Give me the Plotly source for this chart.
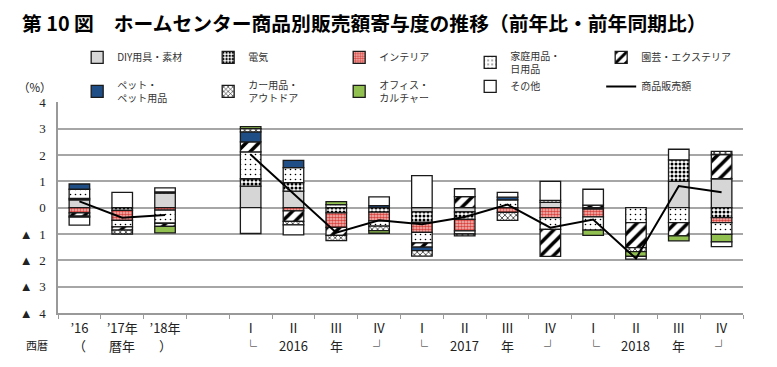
import plotly.graph_objects as go

# ---- data ----
x_labels_top = ["’16", "’17年", "’18年", "", "Ⅰ", "Ⅱ", "Ⅲ", "Ⅳ", "Ⅰ", "Ⅱ", "Ⅲ", "Ⅳ", "Ⅰ", "Ⅱ", "Ⅲ", "Ⅳ"]
x_labels_bot = ["（", "暦年", "）", "", "└", "2016", "年", "┘", "└", "2017", "年", "┘", "└", "2018", "年", "┘"]

diy      = [0.30, 0.00, 0.55, None, 0.82, 0.63, 0.00, 0.00, -0.16, -0.16, 0.00, 0.20, -0.05, 0.00, 1.00, 1.10]
denki    = [0.05, -0.10, 0.05, None, 0.28, 0.32, -0.20, -0.17, -0.40, -0.28, 0.00, 0.08, 0.00, 0.00, 0.82, -0.38]
interior = [-0.20, -0.38, -0.09, None, 0.00, -0.12, -0.55, -0.33, -0.38, -0.44, -0.18, -0.38, -0.30, 0.00, 0.00, -0.19]
katei    = [0.35, -0.25, -0.50, None, 1.02, 0.57, 0.12, -0.20, -0.40, -0.12, 0.30, -0.44, -0.50, -0.57, -0.57, -0.44]
engei    = [-0.12, -0.12, -0.12, None, 0.38, -0.40, -0.30, 0.00, -0.16, 0.42, 0.00, -1.03, 0.10, -0.95, -0.50, 0.92]
pet      = [0.20, 0.00, 0.00, None, 0.38, 0.28, 0.00, 0.08, -0.13, 0.00, 0.10, 0.00, 0.00, 0.00, 0.00, 0.00]
car      = [-0.04, -0.15, 0.00, None, 0.12, -0.13, -0.20, -0.17, -0.21, -0.07, -0.30, 0.00, 0.00, -0.15, 0.00, 0.12]
office   = [0.00, 0.00, -0.25, None, 0.08, 0.00, 0.11, -0.10, 0.00, 0.00, 0.00, 0.00, -0.20, -0.18, -0.19, -0.29]
other    = [-0.30, 0.58, 0.15, None, -0.98, -0.38, 0.00, 0.33, 1.22, 0.30, 0.18, 0.72, 0.60, -0.10, 0.40, -0.18]
sales    = [0.24, -0.38, -0.28, None, 2.02, 0.55, -0.95, -0.48, -0.63, -0.35, 0.12, -0.76, -0.45, -1.93, 0.82, 0.59]

y_tickvals = [4, 3, 2, 1, 0, -1, -2, -3, -4]
y_ticktext = ["4", "3", "2", "1", "0", "▲  1", "▲  2", "▲  3", "▲  4"]

xs = list(range(len(x_labels_top)))

series = [
    ("DIY用具・素材", diy, dict(color="#D6D6D6")),
    ("電気", denki, dict(color="white", pattern=dict(shape=".", fgcolor="black", bgcolor="white", size=4, solidity=0.45, fillmode="replace"))),
    ("インテリア", interior, dict(color="white", pattern=dict(shape=".", fgcolor="#D9433E", bgcolor="#F4C6C4", size=3, solidity=0.6, fillmode="replace"))),
    ("家庭用品・<br>日用品", katei, dict(color="white", pattern=dict(shape=".", fgcolor="black", bgcolor="white", size=5, solidity=0.08, fillmode="replace"))),
    ("園芸・エクステリア", engei, dict(color="white", pattern=dict(shape="/", fgcolor="black", bgcolor="white", size=9, solidity=0.4, fillmode="replace"))),
    ("ペット・<br>ペット用品", pet, dict(color="#1F4E86")),
    ("カー用品・<br>アウトドア", car, dict(color="white", pattern=dict(shape="x", fgcolor="black", bgcolor="white", size=4, solidity=0.3, fillmode="replace"))),
    ("オフィス・<br>カルチャー", office, dict(color="#92C050")),
    ("その他", other, dict(color="white")),
]

fig = go.Figure()
for name, vals, mk in series:
    yv = [v if v else None for v in vals]
    mk = dict(mk)
    mk["line"] = dict(color="#1a1a1a", width=1.3)
    fig.add_trace(go.Bar(x=xs, y=yv, name=name, marker=mk, width=0.48))

fig.add_trace(go.Scatter(x=xs, y=sales, name="商品販売額", mode="lines",
                         line=dict(color="black", width=2), connectgaps=False))

font_main = "Noto Sans CJK JP, sans-serif"

annotations = [
    dict(text="<b>第 10 図　ホームセンター商品別販売額寄与度の推移（前年比・前年同期比）</b>",
         xref="paper", yref="paper", x=-0.056, y=1.379, xanchor="left", yanchor="middle",
         showarrow=False, font=dict(size=19.8, color="black", family=font_main)),
    dict(text="（%）", xref="paper", yref="paper", x=-0.062, y=1.07,
         xanchor="left", yanchor="middle", showarrow=False,
         font=dict(size=11.5, color="#222")),
    dict(text="西暦", xref="paper", yref="paper", x=-0.05, y=-0.152,
         xanchor="left", yanchor="middle", showarrow=False,
         font=dict(size=11, color="#222")),
]
for xi, lab in zip(xs, x_labels_bot):
    if lab:
        annotations.append(dict(text=lab, x=xi, xref="x", yref="paper", y=-0.152,
                                xanchor="center", yanchor="middle", showarrow=False,
                                font=dict(size=13, color="#222")))

fig.update_layout(
    width=777, height=367,
    margin=dict(l=58, r=34, t=102, b=54, autoexpand=False),
    paper_bgcolor="white", plot_bgcolor="white",
    barmode="relative",
    font=dict(family=font_main, size=11, color="#222"),
    showlegend=True,
    legend=dict(orientation="h", x=0.028, y=1.28, xanchor="left", yanchor="top",
                entrywidth=86, entrywidthmode="pixels", traceorder="normal",
                bgcolor="rgba(0,0,0,0)",
                font=dict(size=10, color="#333"), tracegroupgap=0, itemwidth=30),
    xaxis=dict(range=[-0.5, 15.5], tickmode="array", tickvals=xs,
               ticktext=x_labels_top,
               ticks="", showgrid=False, zeroline=False, automargin=False,
               showline=True, linecolor="#999", linewidth=1.5,
               ticklabelstandoff=3,
               tickfont=dict(size=13, color="#222"),
               minor=dict(tick0=-0.5, dtick=1, ticks="outside", ticklen=4,
                          tickcolor="#999", tickwidth=1.2, showgrid=False)),
    yaxis=dict(range=[-4, 4.015], tickmode="array", tickvals=y_tickvals, ticktext=y_ticktext,
               showgrid=True, gridcolor="#A6A6A6", gridwidth=1.5, automargin=False,
               zeroline=True, zerolinecolor="#A6A6A6", zerolinewidth=1.5,
               showline=True, linecolor="#999", linewidth=1.5, ticks="",
               ticklabelstandoff=8,
               tickfont=dict(size=13, color="#222", family="Liberation Serif, serif")),
    annotations=annotations,
)

fig.write_html("out.html", config={"displayModeBar": False},
               post_script="document.body.style.margin='0';")
